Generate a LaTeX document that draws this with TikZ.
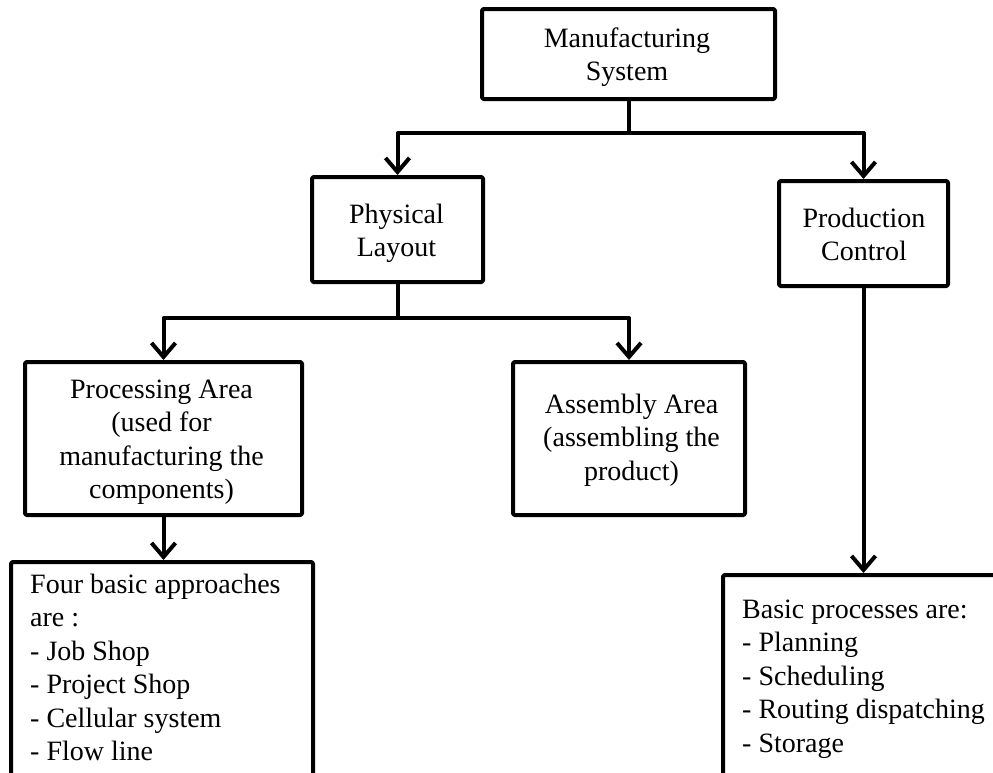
\documentclass[tikz,border=0pt]{standalone}
\usepackage{fontspec}
\setmainfont{Liberation Serif}
\usetikzlibrary{arrows.meta}

\tikzset{
  box/.style={draw, line width=4pt, line join=round, rounded corners=1.5pt,
              inner sep=0pt, minimum width=#1},
  link/.style={line width=4pt, line join=round},
  arr/.style={link, -{Straight Barb[length=14pt,width=24pt]}},
  lbl/.style={anchor=base, inner sep=0pt,
              font=\fontsize{28}{33.5}\selectfont},
}
\newcommand{\ctext}[1]{\begin{tabular}[t]{@{}c@{}}#1\end{tabular}}
\newcommand{\ltext}[1]{\begin{tabular}[t]{@{}l@{}}#1\end{tabular}}

\begin{document}
\begin{tikzpicture}[x=1pt, y=-1pt]
\useasboundingbox (0,0) rectangle (993,772);
\begin{scope}
\clip (0,0) rectangle (993,772);

% boxes
\node[box=293pt, minimum height=90pt]  (ms) at (628.5,54)   {};
\node[box=171pt, minimum height=105pt] (pl) at (397.5,229.5) {};
\node[box=169pt, minimum height=105pt] (pc) at (863.5,233.5) {};
\node[box=277pt, minimum height=153pt] (pa) at (163.5,438.5) {};
\node[box=232pt, minimum height=153pt] (aa) at (629,438.5)   {};
\node[box=302pt, minimum height=260pt] (fb) at (162,692)     {};
\node[box=300pt, minimum height=260pt] (bp) at (873,705)     {};

% texts
\node[lbl] (tms) at (627,47)   {\ctext{Manufacturing\\System}};
\node[lbl] (tpl) at (396.5,223) {\ctext{Physical\\Layout}};
\node[lbl] (tpc) at (864,227)  {\ctext{Production\\Control}};
\node[lbl] (tpa) at (161.5,398) {\ctext{Processing Area\\(used for\\manufacturing the\\components)}};
\node[lbl] (taa) at (631.5,413) {\ctext{Assembly Area\\(assembling the\\product)}};
\node[lbl, anchor=base west] (tfb) at (30,593)
  {\ltext{Four basic approaches\\are :\\- Job Shop\\- Project Shop\\- Cellular system\\- Flow line}};
\node[lbl, anchor=base west] (tbp) at (742,618)
  {\ltext{Basic processes are:\\- Planning\\- Scheduling\\- Routing dispatching\\- Storage}};

% connectors
\draw[link] (ms.south) -- ++(0,32) coordinate (j1);
\draw[arr] (j1) -| (pl.north);
\draw[arr] (j1) -| (pc.north);
\draw[link] (pl.south) -- ++(0,34) coordinate (j2);
\draw[arr] (j2) -| (pa.north);
\draw[arr] (j2) -| (aa.north);
\draw[arr] (pa.south) -- (pa.south |- fb.north);
\draw[arr] (pc.south) -- (pc.south |- bp.north);
\end{scope}
\end{tikzpicture}
\end{document}
